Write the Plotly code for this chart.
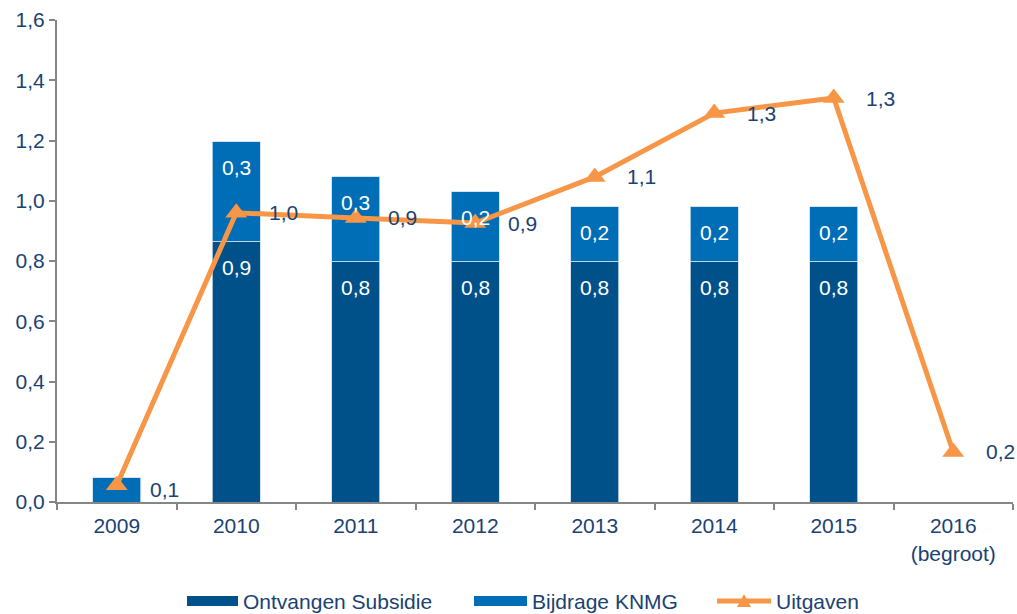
import plotly.graph_objects as go

categories = ["2009", "2010", "2011", "2012", "2013", "2014", "2015", "2016<br>(begroot)"]
subsidie = [0.0, 0.866, 0.80, 0.80, 0.80, 0.80, 0.80, None]
bijdrage = [0.08, 0.33, 0.28, 0.23, 0.18, 0.18, 0.18, None]
uitgaven = [0.056, 0.96, 0.943, 0.926, 1.079, 1.291, 1.341, 0.166]

DARK = "#00508A"
LIGHT = "#006DB7"
ORANGE = "#F79646"
TEXT = "#1A4272"
FONT = "Liberation Sans, Arial, sans-serif"
FS = 21

def fmt(v):
    return f"{v:.1f}".replace(".", ",")

fig = go.Figure()
fig.add_trace(go.Bar(x=categories, y=subsidie, name="Ontvangen Subsidie",
                     marker=dict(color=DARK, line=dict(color="#C9DCEB", width=0.8))))
fig.add_trace(go.Bar(x=categories, y=bijdrage, name="Bijdrage KNMG",
                     marker=dict(color=LIGHT, line=dict(color="#C9DCEB", width=0.8))))
fig.add_trace(go.Scatter(x=categories, y=uitgaven, name="Uitgaven", mode="lines+markers",
                         line=dict(color=ORANGE, width=5),
                         marker=dict(symbol="triangle-up", size=19, color=ORANGE)))

ann = []
outside_idx = set()
for i, (s, b) in enumerate(zip(subsidie, bijdrage)):
    if s is None:
        continue
    if s and s > 0.2:
        ann.append(dict(x=i, y=s, text=fmt(s), showarrow=False, yshift=-26,
                        font=dict(color="white", size=FS, family=FONT)))
        ann.append(dict(x=i, y=s + b, text=fmt(b), showarrow=False, yshift=-26,
                        font=dict(color="white", size=FS, family=FONT)))
    else:
        outside_idx.add(i)
        ann.append(dict(x=i, y=(s or 0) + b / 2, text=fmt(b), showarrow=False, xshift=48,
                        font=dict(color=TEXT, size=FS, family=FONT)))
for i, u in enumerate(uitgaven):
    if i in outside_idx:
        continue  # coincides with the bar label in the reference
    ann.append(dict(x=i, y=u, text=fmt(u), showarrow=False, xshift=47, yshift=0,
                    font=dict(color=TEXT, size=FS, family=FONT)))

# custom legend
legend_items = [("rect", DARK, "Ontvangen Subsidie", 187, 238),
                ("rect", LIGHT, "Bijdrage KNMG", 474, 527),
                ("line", ORANGE, "Uitgaven", 717, 771)]
W, H = 1017, 614
ml, mr, mt, mb = 57, 4, 20, 112
pw, ph = W - ml - mr, H - mt - mb
def px(x):
    return (x - ml) / pw
def py(y):
    return (H - mb - y) / ph

shapes = []
for kind, col, label, x0, x1 in legend_items:
    if kind == "rect":
        shapes.append(dict(type="rect", xref="paper", yref="paper", x0=px(x0), x1=px(x1),
                           y0=py(606), y1=py(596), fillcolor=col, line=dict(width=0)))
    else:
        shapes.append(dict(type="line", xref="paper", yref="paper", x0=px(x0), x1=px(x1),
                           y0=py(601), y1=py(601), line=dict(color=col, width=5)))
        shapes.append(dict(type="path", xref="paper", yref="paper",
                           path=f"M {px(737)} {py(607)} L {px(751)} {py(607)} L {px(744)} {py(594)} Z",
                           fillcolor=col, line=dict(width=0)))
    ann.append(dict(xref="paper", yref="paper", x=px(x1 + 3), y=py(601), xanchor="left",
                    yanchor="middle", text=label, showarrow=False,
                    font=dict(color=TEXT, size=FS, family=FONT)))

fig.update_layout(
    width=W, height=H, barmode="stack", bargap=0.6,
    separators=",.",
    plot_bgcolor="white", paper_bgcolor="white",
    margin=dict(l=ml, r=mr, t=mt, b=mb),
    showlegend=False,
    font=dict(family=FONT, size=FS, color=TEXT),
    annotations=ann, shapes=shapes,
    xaxis=dict(type="category", range=[-0.5, len(categories) - 0.5], showline=True,
               linecolor="#868686", linewidth=2, ticks="outside",
               tickson="boundaries", ticklen=6, tickcolor="#868686", tickwidth=2,
               showgrid=False, tickangle=0, ticklabelstandoff=4,
               tickfont=dict(size=FS, color=TEXT)),
    yaxis=dict(range=[0, 1.6], dtick=0.2, tickformat=".1f", showline=True,
               linecolor="#868686", linewidth=2, ticks="outside", ticklen=6,
               tickcolor="#868686", tickwidth=2, showgrid=False, zeroline=False,
               tickfont=dict(size=FS, color=TEXT)),
)

fig.write_html("out.html")
